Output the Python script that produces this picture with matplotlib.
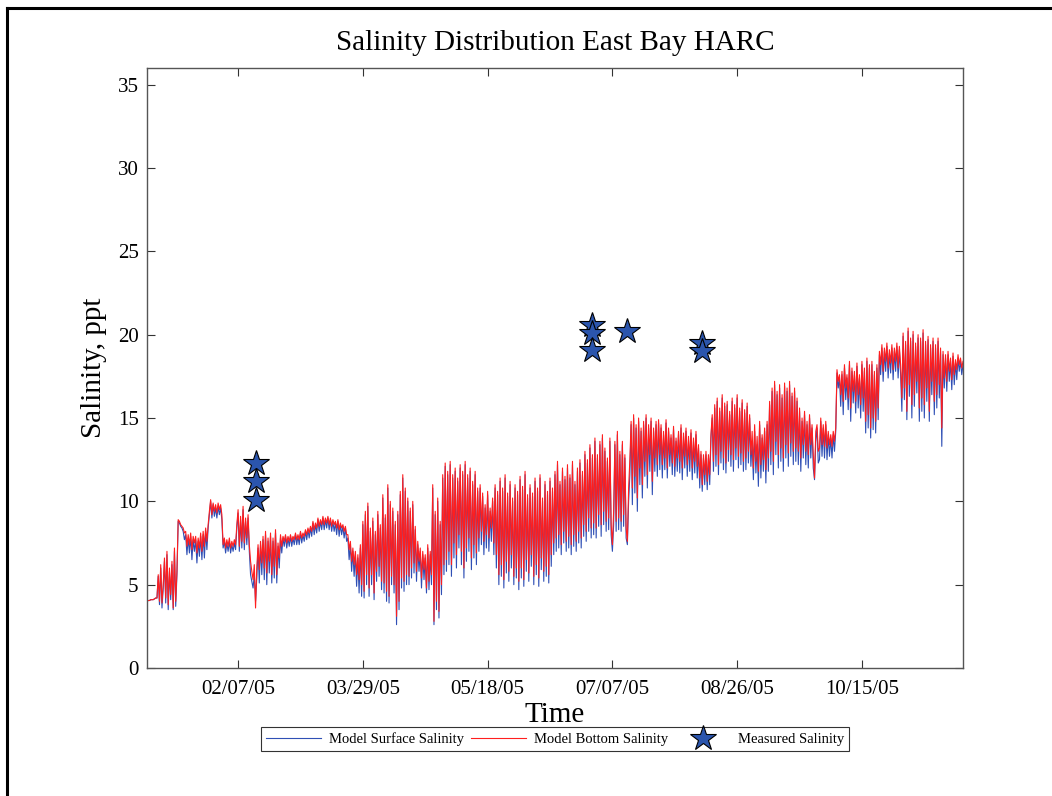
import numpy as np
import matplotlib
matplotlib.use("Agg")
import matplotlib.pyplot as plt
import matplotlib.dates as mdates
from matplotlib.lines import Line2D
import datetime as dt

# ---- data, one value every 12 hours from 01/01/05 ----
start_date = dt.datetime(2005, 1, 1)
step_hours = 12

bottom_salinity = [
    4.0, 4.0, 4.05, 4.05, 4.1, 4.1, 4.1, 4.15, 4.2, 4.2, 5.6, 4.0, 6.2, 3.9, 5.0, 6.6, 4.2, 7.0, 3.8, 6.0,
    4.4, 6.4, 3.6, 7.2, 4.0, 5.8, 8.9, 8.8, 8.6, 8.5, 8.4, 8.1, 8.2, 7.3, 8.0, 7.4, 8.1, 7.1, 7.9, 7.5,
    7.9, 6.9, 7.8, 7.2, 8.1, 7.0, 8.2, 7.3, 8.4, 7.6, 8.6, 9.4, 10.1, 9.2, 9.9, 9.4, 9.8, 9.3, 9.9, 9.5,
    9.8, 9.2, 7.4, 7.8, 7.2, 7.7, 7.3, 7.8, 7.2, 7.6, 7.3, 7.7, 7.4, 8.6, 9.5, 7.3, 9.1, 7.6, 9.7, 7.5,
    9.0, 7.8, 9.2, 7.4, 6.4, 5.8, 5.3, 6.2, 3.6, 6.0, 7.4, 5.9, 7.6, 6.3, 7.9, 6.0, 8.2, 5.7, 7.8, 6.4,
    8.1, 5.6, 7.8, 6.1, 8.3, 5.6, 7.5, 6.6, 8.0, 7.3, 7.9, 7.6, 8.0, 7.5, 7.9, 7.6, 8.0, 7.6, 7.9, 7.7,
    8.1, 7.7, 8.0, 7.7, 8.2, 7.8, 8.1, 7.9, 8.3, 8.0, 8.4, 8.1, 8.5, 8.2, 8.8, 8.3, 8.7, 8.4, 9.0, 8.5,
    8.9, 8.6, 9.1, 8.6, 9.0, 8.7, 9.1, 8.6, 9.0, 8.5, 8.9, 8.6, 8.8, 8.4, 8.9, 8.3, 8.7, 8.4, 8.6, 8.2,
    8.5, 8.0, 8.0, 7.1, 7.6, 6.4, 7.2, 6.2, 7.0, 5.6, 6.8, 5.3, 7.4, 5.0, 8.8, 4.6, 9.4, 5.6, 9.9, 4.8,
    8.4, 5.6, 9.0, 4.5, 8.2, 5.8, 9.4, 6.1, 8.6, 5.2, 10.4, 5.1, 9.2, 4.6, 11.0, 4.3, 10.0, 5.5, 9.6, 5.0,
    8.8, 3.1, 9.4, 4.0, 10.6, 5.4, 11.6, 5.2, 10.8, 5.6, 10.2, 5.5, 9.6, 6.0, 10.0, 6.3, 8.5, 5.8, 7.6, 6.4,
    7.2, 5.4, 7.0, 5.9, 6.8, 4.8, 7.4, 5.2, 7.0, 5.6, 11.0, 2.8, 9.4, 4.0, 10.2, 3.4, 8.8, 5.0, 11.6, 6.2,
    12.3, 6.5, 11.8, 7.0, 12.4, 6.2, 11.6, 7.5, 12.0, 6.8, 11.4, 8.0, 12.2, 7.0, 11.8, 6.0, 12.4, 7.2, 11.6, 7.8,
    12.0, 6.6, 11.2, 7.4, 11.8, 6.9, 10.8, 7.8, 11.0, 8.2, 10.5, 7.6, 9.8, 8.0, 10.6, 7.8, 9.6, 8.4, 10.2, 7.5,
    11.0, 6.8, 10.6, 5.6, 11.4, 6.2, 10.8, 5.3, 11.6, 6.4, 10.5, 5.8, 11.2, 6.8, 10.2, 5.5, 11.0, 6.0, 10.6, 5.2,
    11.5, 6.0, 10.9, 5.3, 11.8, 6.5, 10.4, 5.7, 11.0, 6.8, 10.5, 5.5, 11.4, 6.2, 10.8, 5.4, 11.6, 6.6, 10.2, 5.8,
    11.2, 6.1, 10.6, 5.6, 11.4, 6.8, 10.8, 7.5, 11.8, 7.8, 12.4, 8.0, 11.2, 7.4, 12.0, 8.2, 11.5, 7.6, 12.2, 7.9,
    11.6, 7.4, 12.4, 8.0, 11.2, 7.6, 12.0, 8.2, 12.5, 7.8, 11.8, 8.6, 13.0, 8.2, 12.5, 9.0, 13.4, 8.4, 12.8, 8.7,
    13.8, 8.4, 12.8, 9.2, 13.6, 8.6, 14.0, 9.4, 13.2, 8.8, 12.6, 9.0, 13.8, 8.6, 7.4, 9.4, 13.6, 8.8, 14.2, 9.0,
    13.0, 8.8, 13.6, 9.2, 12.8, 8.4, 7.6, 10.8, 12.5, 14.8, 10.8, 15.2, 11.5, 14.6, 10.2, 15.0, 12.0, 14.4, 11.0, 14.8,
    12.4, 15.2, 11.6, 14.6, 12.8, 15.0, 11.2, 14.4, 12.6, 14.8, 12.2, 14.9, 12.8, 14.6, 12.2, 14.2, 12.6, 14.9, 12.0, 14.4,
    12.8, 14.0, 12.3, 14.5, 12.1, 13.8, 12.6, 14.2, 12.4, 14.6, 12.0, 14.1, 12.7, 14.4, 12.2, 13.9, 12.5, 14.3, 12.0, 13.8,
    12.4, 14.2, 12.1, 13.4, 11.4, 13.0, 11.0, 12.8, 11.6, 13.0, 11.2, 12.8, 11.6, 14.0, 15.2, 12.4, 15.8, 12.8, 16.2, 12.2,
    15.6, 13.0, 16.4, 12.6, 15.9, 12.3, 16.0, 13.1, 15.4, 12.8, 16.2, 12.5, 15.8, 13.2, 16.4, 12.7, 15.6, 12.9, 16.1, 12.4,
    15.5, 12.6, 15.9, 13.0, 15.2, 12.8, 14.2, 12.0, 14.6, 12.4, 13.9, 11.8, 14.8, 12.2, 14.0, 12.5, 14.4, 11.9, 14.8, 12.6,
    16.0, 13.0, 16.8, 12.4, 17.2, 13.6, 16.6, 12.8, 17.0, 13.2, 16.4, 12.6, 17.1, 13.4, 16.8, 12.9, 17.2, 13.5, 16.5, 13.0,
    16.8, 13.2, 16.2, 13.0, 15.6, 12.6, 15.0, 13.4, 15.4, 13.0, 14.8, 12.8, 15.2, 13.4, 14.6, 12.8, 11.4, 14.2, 14.6, 13.0,
    13.2, 15.0, 13.4, 14.6, 13.3, 14.8, 13.2, 14.2, 13.4, 14.0, 13.3, 14.2, 13.6, 14.4, 17.9, 17.2, 17.6, 16.4, 17.8, 16.0,
    18.2, 16.8, 17.6, 16.2, 18.4, 15.6, 18.0, 16.6, 17.8, 16.0, 18.3, 16.4, 17.6, 15.8, 18.4, 16.2, 18.0, 14.8, 18.6, 15.2,
    18.2, 14.4, 18.4, 15.0, 17.8, 14.8, 18.2, 15.6, 19.0, 18.2, 19.4, 17.8, 19.2, 18.4, 19.5, 18.0, 19.1, 18.3, 19.4, 17.9,
    19.2, 18.4, 19.5, 18.0, 19.3, 18.2, 16.2, 20.1, 16.8, 19.6, 15.4, 20.4, 17.0, 19.8, 15.8, 20.2, 16.4, 19.5, 17.2, 20.0,
    15.6, 19.8, 16.2, 20.3, 15.8, 19.6, 16.8, 19.9, 15.4, 19.4, 17.2, 19.8, 16.0, 19.4, 16.4, 19.8, 17.0, 19.2, 14.4, 19.0,
    17.4, 18.8, 17.2, 19.0, 17.8, 18.6, 17.3, 18.9, 17.6, 18.5, 17.9, 18.8, 18.2, 18.6, 18.0, 18.4,
]

surface_salinity = [
    4.0, 4.0, 4.05, 4.05, 4.1, 4.1, 4.1, 4.15, 4.2, 4.2, 5.5, 3.8, 6.0, 3.6, 4.8, 6.4, 3.9, 6.8, 3.5, 5.8,
    4.1, 6.2, 3.5, 7.0, 3.7, 5.6, 8.8, 8.7, 8.5, 8.4, 8.2, 7.7, 8.0, 6.8, 7.8, 6.9, 7.9, 6.5, 7.7, 7.0,
    7.7, 6.3, 7.6, 6.7, 7.9, 6.5, 8.0, 6.6, 8.2, 7.1, 8.4, 9.2, 10.0, 9.0, 9.8, 9.1, 9.6, 9.0, 9.7, 9.2,
    9.6, 8.9, 7.2, 7.6, 6.9, 7.5, 7.0, 7.6, 6.9, 7.4, 7.0, 7.5, 7.1, 8.4, 9.3, 7.0, 8.9, 7.2, 9.5, 7.1,
    8.8, 7.4, 9.0, 7.0, 5.6, 5.2, 4.8, 5.6, 4.0, 5.4, 7.2, 5.1, 7.4, 5.6, 7.7, 5.3, 8.0, 5.0, 7.6, 5.7,
    7.9, 5.1, 7.6, 5.4, 8.1, 5.1, 7.3, 6.0, 7.8, 6.9, 7.8, 7.3, 7.9, 7.2, 7.8, 7.3, 7.9, 7.3, 7.8, 7.4,
    8.0, 7.4, 7.9, 7.4, 8.1, 7.5, 8.0, 7.6, 8.2, 7.7, 8.3, 7.8, 8.4, 7.9, 8.7, 8.0, 8.6, 8.1, 8.9, 8.2,
    8.8, 8.3, 9.0, 8.3, 8.9, 8.4, 9.0, 8.3, 8.9, 8.2, 8.8, 8.2, 8.7, 8.0, 8.8, 7.9, 8.6, 8.0, 8.5, 7.8,
    8.4, 7.6, 7.8, 6.5, 7.4, 5.8, 7.0, 5.5, 6.8, 4.9, 6.6, 4.5, 7.2, 4.3, 8.6, 4.2, 9.2, 5.0, 9.7, 4.3,
    8.2, 5.0, 8.8, 4.1, 8.0, 5.2, 9.2, 5.5, 8.4, 4.7, 10.2, 4.5, 9.0, 4.0, 10.8, 3.9, 9.8, 5.0, 9.4, 4.5,
    8.6, 2.6, 9.2, 3.5, 10.4, 4.8, 11.4, 4.6, 10.6, 5.0, 10.0, 5.0, 9.4, 5.4, 9.8, 5.7, 8.3, 5.2, 7.4, 5.8,
    7.0, 4.8, 6.8, 5.3, 6.6, 4.5, 7.2, 4.7, 6.8, 5.0, 10.8, 2.6, 9.2, 3.5, 10.0, 3.0, 8.6, 4.4, 11.4, 5.6,
    12.1, 5.8, 11.6, 6.2, 12.2, 5.5, 11.4, 6.6, 11.8, 6.0, 11.2, 7.2, 12.0, 6.2, 11.6, 5.4, 12.2, 6.4, 11.4, 7.0,
    11.8, 5.9, 11.0, 6.6, 11.6, 6.2, 10.6, 7.0, 10.8, 7.4, 10.3, 6.8, 9.6, 7.2, 10.4, 7.0, 9.4, 7.6, 10.0, 6.8,
    10.8, 6.0, 10.4, 5.0, 11.2, 5.5, 10.6, 4.8, 11.4, 5.7, 10.3, 5.2, 11.0, 6.0, 10.0, 5.0, 10.8, 5.4, 10.4, 4.7,
    11.3, 5.4, 10.7, 4.9, 11.6, 5.8, 10.2, 5.2, 10.8, 6.1, 10.3, 5.0, 11.2, 5.6, 10.6, 4.9, 11.4, 5.9, 10.0, 5.2,
    11.0, 5.5, 10.4, 5.1, 11.2, 6.1, 10.6, 6.8, 11.6, 7.0, 12.2, 7.2, 11.0, 6.8, 11.8, 7.5, 11.3, 7.0, 12.0, 7.2,
    11.4, 6.8, 12.2, 7.3, 11.0, 7.0, 11.8, 7.5, 12.3, 7.2, 11.6, 7.9, 12.8, 7.6, 12.3, 8.2, 13.2, 7.8, 12.6, 8.0,
    13.6, 7.8, 12.6, 8.5, 13.4, 7.9, 13.8, 8.6, 13.0, 8.2, 12.4, 8.3, 13.6, 8.0, 7.0, 8.6, 13.4, 8.2, 14.0, 8.3,
    12.8, 8.2, 13.4, 8.5, 12.6, 7.8, 7.4, 10.0, 11.6, 14.6, 9.8, 15.0, 10.5, 14.4, 9.4, 14.8, 11.0, 14.2, 10.2, 14.6,
    11.5, 15.0, 10.8, 14.4, 11.8, 14.8, 10.4, 14.2, 11.8, 14.6, 11.5, 14.7, 11.9, 14.4, 11.4, 14.0, 11.9, 14.7, 11.4, 14.2,
    12.1, 13.8, 11.6, 14.3, 11.5, 13.6, 11.8, 14.0, 11.7, 14.4, 11.3, 13.9, 12.0, 14.2, 11.5, 13.7, 11.8, 14.1, 11.3, 13.6,
    11.7, 14.0, 11.4, 13.2, 10.8, 12.8, 10.6, 12.6, 11.0, 12.8, 10.7, 12.6, 11.0, 13.8, 15.0, 11.8, 15.6, 12.1, 16.0, 11.6,
    15.4, 12.3, 16.2, 11.9, 15.7, 11.7, 15.8, 12.4, 15.2, 12.1, 16.0, 11.8, 15.6, 12.5, 16.2, 12.0, 15.4, 12.2, 15.9, 11.8,
    15.3, 11.9, 15.7, 12.3, 15.0, 12.1, 13.6, 11.3, 14.2, 11.7, 13.4, 10.9, 14.6, 11.4, 13.8, 11.8, 14.2, 11.1, 14.6, 11.8,
    15.8, 12.2, 16.6, 11.6, 17.0, 12.8, 16.4, 12.0, 16.8, 12.4, 16.2, 11.8, 16.9, 12.6, 16.6, 12.1, 17.0, 12.7, 16.3, 12.2,
    16.6, 12.4, 16.0, 12.2, 15.4, 11.8, 14.8, 12.6, 15.2, 12.2, 14.6, 12.0, 15.0, 12.6, 14.4, 12.0, 11.3, 13.6, 14.4, 12.3,
    12.5, 14.8, 12.7, 14.4, 12.6, 14.6, 12.5, 14.0, 12.7, 13.8, 12.6, 14.0, 13.0, 14.2, 17.7, 16.8, 17.4, 15.7, 17.6, 15.2,
    18.0, 16.1, 17.4, 15.5, 18.2, 14.8, 17.8, 15.9, 17.6, 15.3, 18.1, 15.6, 17.4, 15.0, 18.2, 15.4, 17.8, 14.1, 18.4, 14.4,
    18.0, 13.8, 18.2, 14.3, 17.6, 14.1, 18.0, 14.9, 18.8, 17.6, 19.2, 17.2, 19.0, 17.8, 19.3, 17.4, 18.9, 17.7, 19.2, 17.3,
    19.0, 17.8, 19.3, 17.4, 19.1, 17.6, 15.4, 19.9, 16.1, 19.4, 14.9, 20.2, 16.3, 19.6, 15.0, 20.0, 15.7, 19.3, 16.5, 19.8,
    14.8, 19.6, 15.4, 20.1, 15.0, 19.4, 16.0, 19.7, 14.8, 19.2, 16.4, 19.6, 15.2, 19.2, 15.6, 19.6, 16.2, 19.0, 13.3, 18.8,
    16.8, 18.6, 16.6, 18.8, 17.2, 18.4, 16.7, 18.7, 17.0, 18.3, 17.3, 18.6, 17.8, 18.4, 17.6, 18.2,
]

measured_dates = ["2005-02-14", "2005-02-14", "2005-02-14",
                  "2005-06-29", "2005-06-29", "2005-06-29",
                  "2005-07-13", "2005-08-12", "2005-08-12"]
measured_values = [12.3, 11.2, 10.1, 20.6, 20.1, 19.1, 20.2, 19.5, 19.0]

x_tick_dates = ["2005-02-07", "2005-03-29", "2005-05-18",
                "2005-07-07", "2005-08-26", "2005-10-15"]
y_ticks = [0, 5, 10, 15, 20, 25, 30, 35]

# ---- figure ----
plt.rcParams['font.family'] = ['Liberation Serif', 'DejaVu Serif']

fig = plt.figure(figsize=(10.52, 7.96), dpi=100)
ax = fig.add_axes([147/1052, 1-668/796, (963-147)/1052, (668-68)/796])

d_bottom = [start_date + dt.timedelta(hours=step_hours*i) for i in range(len(bottom_salinity))]
d_surface = [start_date + dt.timedelta(hours=step_hours*i) for i in range(len(surface_salinity))]
d_meas = [dt.datetime.strptime(s, "%Y-%m-%d") for s in measured_dates]

blue = '#2f4fb5'
red = '#ff1e1e'
ax.plot(d_surface, surface_salinity, color=blue, lw=0.8, label='Model Surface Salinity')
ax.plot(d_bottom, bottom_salinity, color=red, lw=0.8, label='Model Bottom Salinity')
ax.plot(d_meas, measured_values, linestyle='none', marker='*', markersize=19,
        markerfacecolor='#2b55ad', markeredgecolor='black', markeredgewidth=0.8,
        label='Measured Salinity')

ax.set_xlim(dt.datetime(2005, 1, 1, 12), dt.datetime(2005, 11, 24, 12))
ax.set_ylim(0, 36)
ax.set_yticks(y_ticks)
ax.set_xticks([dt.datetime.strptime(s, "%Y-%m-%d") for s in x_tick_dates])
ax.xaxis.set_major_formatter(mdates.DateFormatter('%m/%d/%y'))
ax.tick_params(direction='in', length=6, width=0.8, top=True, right=True,
               labelsize=15, colors='#333333', labelcolor='black')
ax.tick_params(axis='x', pad=9)
ax.tick_params(axis='y', pad=6)
for s in ax.spines.values():
    s.set_color('#555555')
    s.set_linewidth(1.0)

ax.set_title('Salinity Distribution East Bay HARC', fontsize=21, pad=13)
ax.set_ylabel('Salinity, ppt', fontsize=21, labelpad=8)
ax.set_xlabel('Time', fontsize=21, labelpad=2)

leg = fig.legend(loc='center', bbox_to_anchor=(555/1052, 1-739/796), ncol=3,
                 fontsize=10.5, frameon=True, fancybox=False, edgecolor='black',
                 handlelength=3.8, handletextpad=0.5, columnspacing=0.5,
                 borderpad=0.35, borderaxespad=0)
leg.get_frame().set_linewidth(0.8)

# figure border
fig.add_artist(Line2D([7/1052, 7/1052], [0, 1-8/796], transform=fig.transFigure,
                      color='black', lw=2.2))
fig.add_artist(Line2D([7/1052, 1], [1-8/796, 1-8/796], transform=fig.transFigure,
                      color='black', lw=2.2))

fig.savefig('out.png', dpi=100)
